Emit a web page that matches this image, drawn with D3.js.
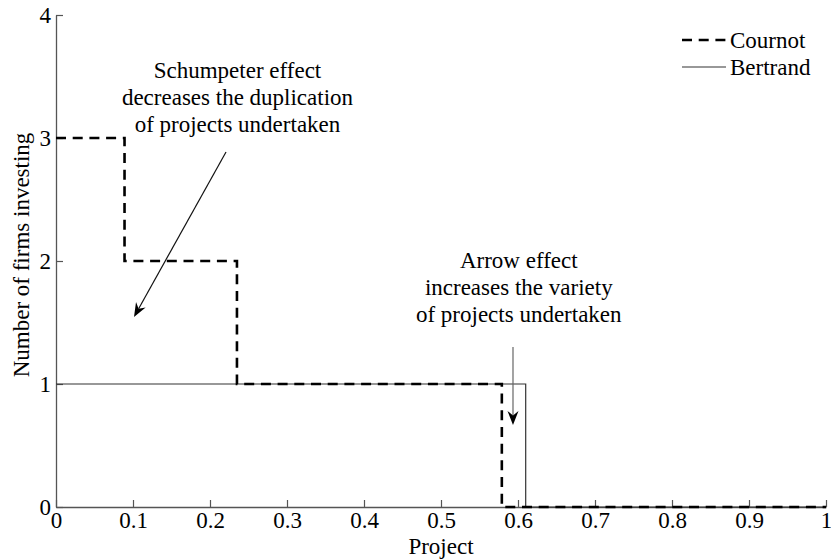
<!DOCTYPE html>
<html>
<head>
<meta charset="utf-8">
<script src="https://cdn.jsdelivr.net/npm/d3@7"></script>
<style>
  html, body { margin: 0; padding: 0; background: #fff; }
  svg text { font-family: "Liberation Serif", "Times New Roman", "DejaVu Serif", serif; fill: #000; }
</style>
</head>
<body>
<svg id="chart" width="831" height="560"></svg>
<script>
// ---- data ----
const cournotX = [0, 0.089, 0.235, 0.579, 1];
const cournotY = [3, 2, 1, 0, 0];
const bertrandX = [0, 0.61, 1];
const bertrandY = [1, 0, 0];
const xTicks = [0, 0.1, 0.2, 0.3, 0.4, 0.5, 0.6, 0.7, 0.8, 0.9, 1];
const yTicks = [0, 1, 2, 3, 4];
const seriesNames = ["Cournot", "Bertrand"];
const schumpeterText = ["Schumpeter effect", "decreases the duplication", "of projects undertaken"];
const arrowText = ["Arrow effect", "increases the variety", "of projects undertaken"];

// ---- layout ----
const svg = d3.select("#chart");
const mLeft = 56, mRight = 826, mTop = 15, mBottom = 507;
const x = d3.scaleLinear().domain([0, 1]).range([mLeft, mRight]);
const y = d3.scaleLinear().domain([0, 4]).range([mBottom, mTop]);
const FS = 23;
const FF = "Liberation Serif, Times New Roman, DejaVu Serif, serif";
const axisColor = "#555";

// axes
const xAxis = d3.axisBottom(x).tickValues(xTicks).tickSizeInner(-7).tickSizeOuter(0)
  .tickFormat(d => d3.format("")(d));
const gx = svg.append("g").attr("transform", `translate(0,${mBottom})`).call(xAxis);
const yAxis = d3.axisLeft(y).tickValues(yTicks).tickSizeInner(-7).tickSizeOuter(0)
  .tickFormat(d3.format("d"));
const gy = svg.append("g").attr("transform", `translate(${mLeft},0)`).call(yAxis);
[gx, gy].forEach(g => {
  g.attr("font-family", FF).attr("font-size", FS);
  g.select(".domain").attr("stroke", axisColor).attr("stroke-width", 1.3);
  g.selectAll(".tick line").attr("stroke", axisColor).attr("stroke-width", 1.2);
  g.selectAll(".tick text").attr("font-size", FS).attr("font-family", FF).attr("fill", "#000");
});
gx.selectAll(".tick text").attr("dy", null).attr("y", 21);
gy.selectAll(".tick text").attr("x", -5).attr("dy", "0.33em");

// axis labels
svg.append("text").attr("x", (mLeft + mRight) / 2).attr("y", 554)
  .attr("text-anchor", "middle").attr("font-family", FF).attr("font-size", FS).text("Project");
svg.append("text").attr("transform", `translate(29,${(mTop + mBottom) / 2 - 6}) rotate(-90)`)
  .attr("text-anchor", "middle").attr("font-family", FF).attr("font-size", FS).text("Number of firms investing");

// series
const line = d3.line().x(d => x(d[0])).y(d => y(d[1])).curve(d3.curveStepAfter);
const bertrand = bertrandX.map((v, i) => [v, bertrandY[i]]);
const cournot = cournotX.map((v, i) => [v, cournotY[i]]);
svg.append("path").datum(bertrand).attr("d", line).attr("fill", "none")
  .attr("stroke", "#333").attr("stroke-width", 1.2);
svg.append("path").datum(cournot).attr("d", line).attr("fill", "none")
  .attr("stroke", "#000").attr("stroke-width", 2.6).attr("stroke-dasharray", "10,6.7");

// legend
const legend = svg.append("g").attr("font-family", FF).attr("font-size", FS);
legend.append("line").attr("x1", 682).attr("x2", 726).attr("y1", 40).attr("y2", 40)
  .attr("stroke", "#000").attr("stroke-width", 2.6).attr("stroke-dasharray", "10,6.7");
legend.append("text").attr("x", 730).attr("y", 48).text(seriesNames[0]);
legend.append("line").attr("x1", 682).attr("x2", 726).attr("y1", 67).attr("y2", 67)
  .attr("stroke", "#333").attr("stroke-width", 1.2);
legend.append("text").attr("x", 730).attr("y", 75).text(seriesNames[1]);

// annotations
function arrow(x1, y1, x2, y2, color) {
  const dx = x2 - x1, dy = y2 - y1, len = Math.hypot(dx, dy);
  const ux = dx / len, uy = dy / len, nx = -uy, ny = ux;
  const L = 14, W = 5.5, N = 4.5;
  const bx = x2 - ux * L, by = y2 - uy * L;
  const mx = x2 - ux * (L - N), my = y2 - uy * (L - N);
  svg.append("line").attr("x1", x1).attr("y1", y1).attr("x2", mx).attr("y2", my)
    .attr("stroke", color).attr("stroke-width", 1.2);
  svg.append("path").attr("d",
    `M${x2},${y2}L${bx + nx * W},${by + ny * W}L${mx},${my}L${bx - nx * W},${by - ny * W}Z`)
    .attr("fill", "#000");
}
function textBlock(lines, cx, y0) {
  lines.forEach((t, i) => {
    svg.append("text").attr("x", cx).attr("y", y0 + i * 27)
      .attr("text-anchor", "middle").attr("font-family", FF).attr("font-size", FS).text(t);
  });
}
textBlock(schumpeterText, x(0.2357), y(3.488));
arrow(x(0.2208), y(2.886), x(0.1013), y(1.545), "#111");
textBlock(arrowText, x(0.601), y(1.943));
arrow(x(0.5935), y(1.30), x(0.5935), y(0.667), "#666");
</script>
</body>
</html>
